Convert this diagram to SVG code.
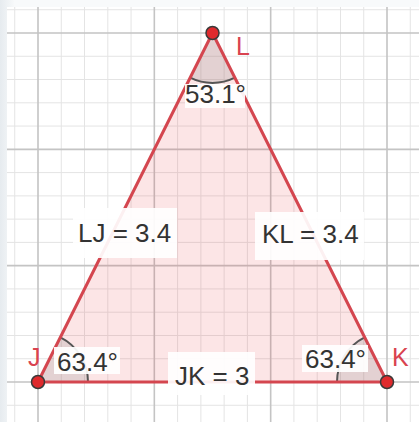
<svg xmlns="http://www.w3.org/2000/svg" width="419" height="422" viewBox="0 0 419 422">
<style>
.minor{stroke:#e4e4e4;stroke-width:1;fill:none}
.major{stroke:#c4c4c4;stroke-width:1.6;fill:none}
.edge{stroke:#d4464f;stroke-width:3;fill:none;stroke-linecap:round}
.sector{fill:#8c8c8c;fill-opacity:0.22;stroke:none}
.arc{fill:none;stroke:#555;stroke-width:2}
.box{fill:#fff;fill-opacity:0.92}
.lbl{font-family:"Liberation Sans",Arial,sans-serif;font-size:26px;fill:#333}
.vlbl{font-family:"Liberation Sans",Arial,sans-serif;font-size:25px;fill:#d9434f}
.dot{fill:#df2a2d;stroke:#3a3a3a;stroke-width:1.5}
</style>
<defs>
<linearGradient id="side" x1="0" y1="0" x2="1" y2="0">
<stop offset="0" stop-color="#e6ebef"/>
<stop offset="1" stop-color="#f7f9fa"/>
</linearGradient>
</defs>
<rect x="0" y="0" width="419" height="422" fill="#f8fafb"/>
<rect x="0" y="0" width="14" height="422" fill="url(#side)"/>
<rect x="7" y="7" width="412" height="415" fill="#ffffff"/>
<g id="grid">
<path class="minor" d="M14.73,7V422M61.27,7V422M84.53,7V422M107.8,7V422M131.07,7V422M177.6,7V422M200.87,7V422M224.13,7V422M247.4,7V422M293.93,7V422M317.2,7V422M340.47,7V422M363.73,7V422M410.27,7V422M7,9.73H419M7,56.27H419M7,79.53H419M7,102.8H419M7,126.07H419M7,172.6H419M7,195.87H419M7,219.13H419M7,242.4H419M7,288.93H419M7,312.2H419M7,335.47H419M7,358.73H419M7,405.27H419"/>
<path class="major" d="M38,7V422M154.33,7V422M270.67,7V422M387,7V422M7,33H419M7,149.33H419M7,265.67H419M7,382H419"/>
</g>
<polygon id="face" points="212.5,33 38,382 387,382" fill="#e8383d" fill-opacity="0.13" stroke="none"/>
<g id="angles">
<path class="sector" d="M38,382L88,382A50,50 0 0,0 60.39,337.29Z"/>
<path class="arc" d="M88,382A50,50 0 0,0 60.39,337.29"/>
<path class="sector" d="M387,382L337,382A50,50 0 0,1 364.61,337.29Z"/>
<path class="arc" d="M337,382A50,50 0 0,1 364.61,337.29"/>
<path class="sector" d="M212.5,33L190.14,77.72A50,50 0 0,0 234.86,77.72Z"/>
<path class="arc" d="M190.14,77.72A50,50 0 0,0 234.86,77.72"/>
</g>
<g id="connectors">
<line id="edge-LJ" class="edge" x1="212.5" y1="33" x2="38" y2="382"/>
<line id="edge-KL" class="edge" x1="387" y1="382" x2="212.5" y2="33"/>
<line id="edge-JK" class="edge" x1="38" y1="382" x2="387" y2="382"/>
<rect class="box" x="73" y="208" width="104" height="50"/>
<text class="lbl" x="78" y="242">LJ = 3.4</text>
<rect class="box" x="255" y="212" width="109" height="48"/>
<text class="lbl" x="262" y="243">KL = 3.4</text>
<rect class="box" x="168" y="352" width="87" height="43"/>
<text class="lbl" x="175" y="385">JK = 3</text>
</g>
<g id="node-L">
<rect class="box" x="185" y="84" width="60" height="24"/>
<text class="lbl" x="185" y="103">53.1°</text>
<circle class="dot" cx="212.5" cy="33" r="6.5"/>
<text class="vlbl" x="236" y="55">L</text>
</g>
<g id="node-J">
<rect class="box" x="54" y="347" width="66" height="27"/>
<text class="lbl" x="57" y="371">63.4°</text>
<circle class="dot" cx="38" cy="382" r="6.5"/>
<text class="vlbl" x="28" y="366">J</text>
</g>
<g id="node-K">
<rect class="box" x="302" y="345" width="66" height="27"/>
<text class="lbl" x="305" y="368">63.4°</text>
<circle class="dot" cx="387" cy="382" r="6.5"/>
<text class="vlbl" x="392" y="366">K</text>
</g>
</svg>
